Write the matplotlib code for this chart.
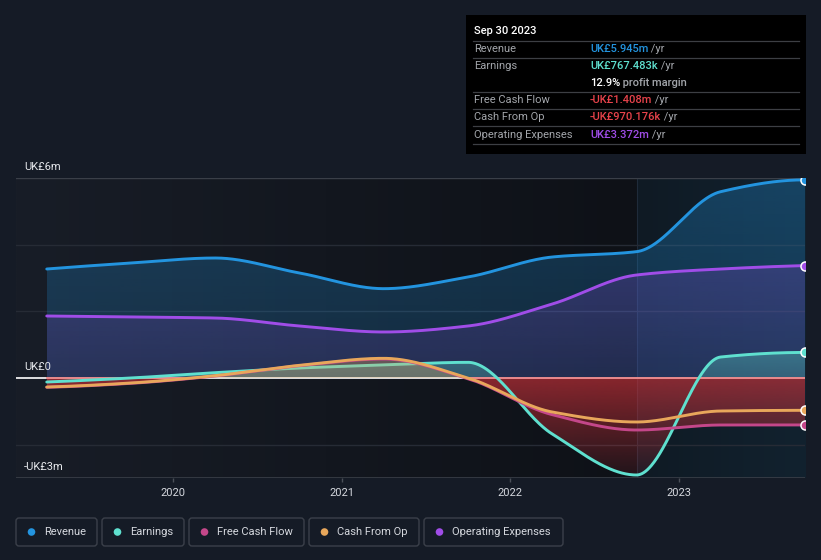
import numpy as np
import matplotlib
matplotlib.use('Agg')
import matplotlib.pyplot as plt
from matplotlib.patches import Rectangle, FancyBboxPatch, Circle
from matplotlib.transforms import IdentityTransform
from matplotlib.colors import to_rgb

# ---------------- data (UK£ millions, trailing twelve months) ----------------
dates = [2019.25, 2019.75, 2020.25, 2020.75, 2021.25, 2021.75, 2022.25, 2022.75, 2023.25, 2023.75]
revenue = [3.27, 3.45, 3.60, 3.15, 2.68, 3.03, 3.63, 3.79, 5.59, 5.945]
earnings = [-0.12, 0.00, 0.16, 0.30, 0.39, 0.47, -1.68, -2.91, 0.63, 0.767]
free_cash_flow = [-0.28, -0.16, 0.06, 0.37, 0.57, -0.02, -1.10, -1.56, -1.41, -1.408]
cash_from_op = [-0.27, -0.15, 0.07, 0.38, 0.59, 0.00, -1.02, -1.32, -0.99, -0.970]
operating_expenses = [1.86, 1.83, 1.80, 1.56, 1.38, 1.56, 2.22, 3.09, 3.27, 3.372]

tick_years = [2020, 2021, 2022, 2023]
y_label_values = [6, 0, -3]
y_label_texts = ['UK£6m', 'UK£0', '-UK£3m']
grid_values = [4, 2, -2]
highlight_start = 2022.75

tooltip_title = 'Sep 30 2023'
tooltip_rows = [
    ('Revenue', 'UK£5.945m', ' /yr', '#2394df'),
    ('Earnings', 'UK£767.483k', ' /yr', '#5fe0cf'),
    ('', '12.9%', ' profit margin', '#ffffff'),
    ('Free Cash Flow', '-UK£1.408m', ' /yr', '#e8434b'),
    ('Cash From Op', '-UK£970.176k', ' /yr', '#e8434b'),
    ('Operating Expenses', 'UK£3.372m', ' /yr', '#a04de8'),
]
legend_names = ['Revenue', 'Earnings', 'Free Cash Flow', 'Cash From Op', 'Operating Expenses']

C_REV = '#2394df'
C_EARN = '#5fe0cf'
C_FCF = '#c4478a'
C_CFO = '#e8a75b'
C_OPEX = '#a04de8'
legend_colors = [C_REV, C_EARN, C_FCF, C_CFO, C_OPEX]

BG = '#151b26'
W, H = 821, 560
FONT = ['Roboto', 'DejaVu Sans']
plt.rcParams['font.family'] = FONT


def pchip(x, y, xn):
    x = np.asarray(x, float)
    y = np.asarray(y, float)
    h = np.diff(x)
    d = np.diff(y) / h
    n = len(x)
    m = np.zeros(n)
    for k in range(1, n - 1):
        if d[k - 1] * d[k] > 0:
            w1 = 2 * h[k] + h[k - 1]
            w2 = h[k] + 2 * h[k - 1]
            m[k] = (w1 + w2) / (w1 / d[k - 1] + w2 / d[k])

    def ends(h0, h1, d0, d1):
        s = ((2 * h0 + h1) * d0 - h0 * d1) / (h0 + h1)
        if np.sign(s) != np.sign(d0):
            s = 0.0
        elif np.sign(d0) != np.sign(d1) and abs(s) > abs(3 * d0):
            s = 3 * d0
        return s

    m[0] = ends(h[0], h[1], d[0], d[1])
    m[-1] = ends(h[-1], h[-2], d[-1], d[-2])
    idx = np.clip(np.searchsorted(x, xn) - 1, 0, n - 2)
    t = (xn - x[idx]) / h[idx]
    h00 = 2 * t**3 - 3 * t**2 + 1
    h10 = t**3 - 2 * t**2 + t
    h01 = -2 * t**3 + 3 * t**2
    h11 = t**3 - t**2
    return h00 * y[idx] + h10 * h[idx] * m[idx] + h01 * y[idx + 1] + h11 * h[idx] * m[idx + 1]


fig = plt.figure(figsize=(W / 100, H / 100), dpi=100, facecolor=BG)
ax_left, ax_right, ax_top, ax_bot = 16, 805, 178, 478
ax = fig.add_axes([ax_left / W, 1 - ax_bot / H, (ax_right - ax_left) / W, (ax_bot - ax_top) / H])
ax.set_facecolor(BG)

px_per_year = 168.5
xmax = dates[-1]
xmin = xmax - (ax_right - ax_left) / px_per_year
ymin, ymax = -3, 6

xs = np.linspace(dates[0], dates[-1], 800)
rev_s = pchip(dates, revenue, xs)
earn_s = pchip(dates, earnings, xs)
fcf_s = pchip(dates, free_cash_flow, xs)
cfo_s = pchip(dates, cash_from_op, xs)
opex_s = pchip(dates, operating_expenses, xs)

# background gradient (left lighter to darker), highlight region bluish
c_left = np.array(to_rgb('#181d27'))
c_right = np.array(to_rgb('#0e1117'))
g = np.linspace(0, 1, 256)[None, :, None]
bgimg = c_left * (1 - g) + c_right * g
ax.imshow(bgimg, aspect='auto', extent=[xmin, highlight_start, ymin, ymax], zorder=0, interpolation='bilinear')
h_left = np.array(to_rgb('#0f1a24'))
h_right = np.array(to_rgb('#12222f'))
himg = h_left * (1 - g) + h_right * g
ax.imshow(himg, aspect='auto', extent=[highlight_start, xmax, ymin, ymax], zorder=0, interpolation='bilinear')
ax.axvline(highlight_start, color='#1f2b3a', lw=0.8, zorder=0.5)


def grad_fill(y1, y2, color, a_top, a_bot, z, ytop, ybot):
    poly = ax.fill_between(xs, y1, y2, facecolor='none', edgecolor='none', zorder=z)
    rgb = to_rgb(color)
    grad = np.zeros((256, 1, 4))
    grad[..., :3] = rgb
    grad[:, 0, 3] = np.linspace(a_top, a_bot, 256)
    im = ax.imshow(grad, aspect='auto', extent=[dates[0], dates[-1], ybot, ytop],
                   origin='upper', zorder=z, interpolation='bilinear')
    im.set_clip_path(poly.get_paths()[0], transform=ax.transData)
    return im


# gridlines
ax.axhline(6, color='#3a3f48', lw=1, zorder=1)
for gv in grid_values:
    ax.axhline(gv, color='#262b35', lw=1, zorder=1)
ax.axhline(-3, color='#3a3f48', lw=1.2, zorder=1)

# fills
grad_fill(rev_s, 0, C_REV, 0.30, 0.18, 2, 6, 0)
grad_fill(opex_s, 0, C_OPEX, 0.22, 0.12, 2.1, 3.4, 0)
grad_fill(np.maximum(earn_s, 0), 0, C_EARN, 0.35, 0.25, 2.2, 0.8, 0)

lowest = np.minimum(np.minimum(earn_s, fcf_s), np.minimum(cfo_s, 0))
grad_fill(lowest, 0, '#e0353d', 0.58, 0.08, 2.3, 0, -3)

# zero line
ax.axhline(0, color='#ffffff', lw=1.2, zorder=2.4)
neg_edge = np.where(lowest < 0, 0.0, np.nan)
ax.plot(xs, neg_edge, color='#e7777a', lw=1.2, zorder=2.45)

# lines
LW = 2.1
ax.plot(xs, rev_s, color=C_REV, lw=LW, zorder=5, solid_capstyle='round')
ax.plot(xs, opex_s, color=C_OPEX, lw=LW, zorder=5, solid_capstyle='round')
ax.plot(xs, earn_s, color=C_EARN, lw=LW, zorder=3, solid_capstyle='round')
# CFO positive fill sits above the earnings line
grad_fill(np.maximum(cfo_s, 0), 0, C_CFO, 0.34, 0.30, 3.5, 0.7, 0)
ax.plot(xs, fcf_s, color=C_FCF, lw=LW, zorder=5, solid_capstyle='round')
ax.plot(xs, cfo_s, color=C_CFO, lw=LW, zorder=5.1, solid_capstyle='round')

# end markers (clipped at the plot edge like the original)
for series, col in [(revenue, C_REV), (operating_expenses, C_OPEX), (earnings, C_EARN),
                    (cash_from_op, C_CFO), (free_cash_flow, C_FCF)]:
    ax.plot([dates[-1]], [series[-1]], 'o', ms=6.5, mfc=col, mec='white', mew=1.1,
            zorder=6, clip_on=True)

ax.set_xlim(xmin, xmax)
ax.set_ylim(ymin, ymax)
for s in ax.spines.values():
    s.set_visible(False)
ax.set_yticks([])
ax.set_xticks(tick_years)
ax.set_xticklabels([str(y) for y in tick_years])
ax.tick_params(axis='x', colors='#4a4f58', length=3, width=1, pad=4, labelsize=8,
               labelcolor='#d5d8de')

# y labels
for v, t in zip(y_label_values, y_label_texts):
    ax.annotate(t, xy=(xmin, v), xycoords='data', xytext=(5.8, 4), textcoords='offset points',
                ha='left', va='bottom', color='#e6e8ec', fontsize=8, zorder=7,
                annotation_clip=False)

# ---------------- tooltip ----------------
def fx(px):
    return px / W


def fy(py):
    return 1 - py / H


fig.patches.append(Rectangle((fx(466), fy(154)), 340 / W, 139 / H, transform=fig.transFigure,
                             facecolor='#000000', edgecolor='none', zorder=10))
fig.text(fx(474), fy(31), tooltip_title, color='white', fontsize=8, fontweight='medium',
         va='center', ha='left', zorder=11)
row_y = [49, 66, 83, 100, 117, 135]
sep_y = [41, 58, 92, 109, 126, 144]
for sy in sep_y:
    fig.lines.append(plt.Line2D([fx(473), fx(799)], [fy(sy), fy(sy)], transform=fig.transFigure,
                                color='#3d3f44', lw=0.9, zorder=11))
for (lab, val, suffix, col), ry in zip(tooltip_rows, row_y):
    if lab:
        fig.text(fx(474), fy(ry), lab, color='#a3a6ab', fontsize=8, va='center', ha='left', zorder=12)
    bold = lab == ''
    t1 = fig.text(fx(590), fy(ry), val, color=col, fontsize=8, va='center', ha='left', zorder=12,
                  fontweight='medium')
    fig.add_artist(plt.Annotation(suffix, xy=(1, 0.5), xycoords=t1, va='center', ha='left',
                                  color='#a3a6ab', fontsize=8, zorder=12,
                                  fontweight='medium' if bold else 'normal'))

# ---------------- legend ----------------
boxes = [(16, 97), (102, 184), (189, 304), (309, 419), (424, 563)]
ly0, ly1 = 518, 546
for (b0, b1), name, col in zip(boxes, legend_names, legend_colors):
    fig.patches.append(FancyBboxPatch((b0, H - ly1), b1 - b0, ly1 - ly0,
                                      boxstyle='round,pad=0,rounding_size=3',
                                      transform=IdentityTransform(), facecolor='none',
                                      edgecolor='#3b404a', lw=1.0, zorder=10))
    fig.patches.append(Circle((b0 + 15.5, H - 532), 3.8, transform=IdentityTransform(),
                              facecolor=col, edgecolor='none', zorder=11))
    fig.text(fx(b0 + 28), fy(532), name, color='#d5d8de', fontsize=8, va='center', ha='left',
             zorder=11)

fig.savefig('out.png', dpi=100, facecolor=BG)
